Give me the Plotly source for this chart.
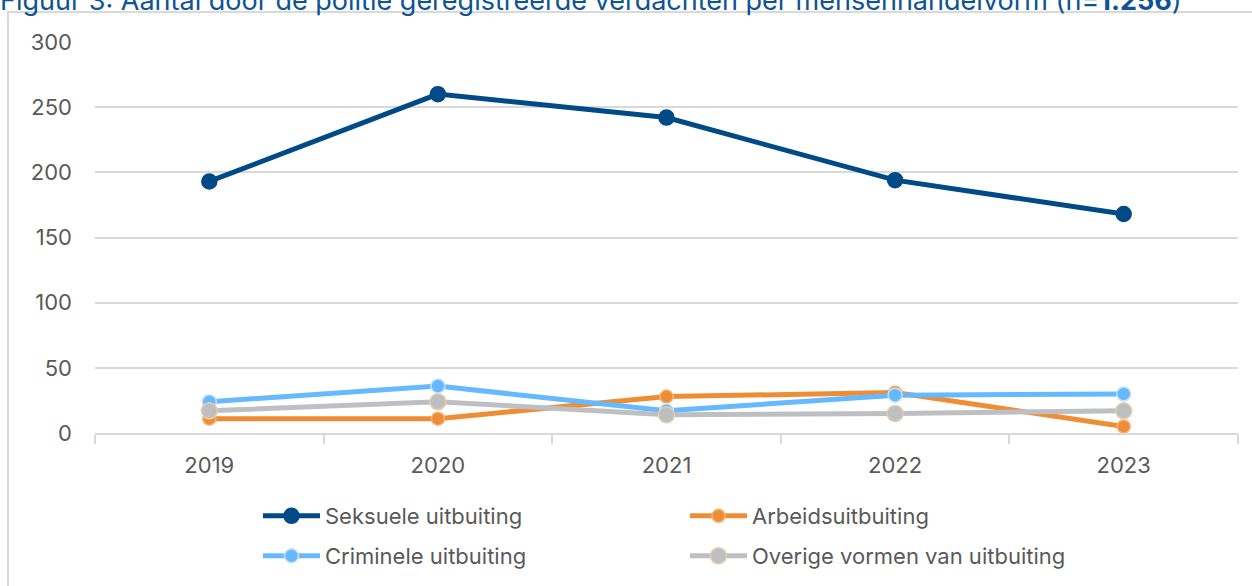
import plotly.graph_objects as go

years = ["2019", "2020", "2021", "2022", "2023"]
seksuele = [193, 260, 242, 194, 168]
arbeid = [11, 11, 28, 31, 5]
criminele = [24, 36, 17, 29, 30]
overige = [17, 24, 14, 15, 17]

series = [
    ("Seksuele uitbuiting", seksuele, "#004A87", "#004A87", 15, "legend"),
    ("Arbeidsuitbuiting", arbeid, "#EE8E34", "#F4B27A", 13, "legend"),
    ("Criminele uitbuiting", criminele, "#66B8FF", "#C9E4FF", 14, "legend2"),
    ("Overige vormen van uitbuiting", overige, "#BEBFC3", "#E3D0A6", 16, "legend2"),
]

fig = go.Figure()
for name, vals, col, edge, ms, lg in series:
    fig.add_trace(go.Scatter(
        x=years, y=vals, name=name, mode="lines+markers",
        line=dict(color=col, width=5),
        marker=dict(color=col, size=ms, line=dict(color=edge, width=1.5)),
        legend=lg,
    ))

# body margin is removed below, so figure pixels == page pixels
W, H = 1252, 586
PL, PR, PT, PB = 95, 1238, 42, 433  # plot area in page pixels
L, T = PL, PT
R, B = W - PR, H - PB
pw, ph = PR - PL, PB - PT

def px(x):
    return (x - PL) / pw

def py(y):
    return (PB - y) / ph

FONT = "Inter, Roboto, sans-serif"
leg_common = dict(
    orientation="h", xanchor="left", yanchor="middle",
    entrywidth=355, entrywidthmode="pixels", itemwidth=57,
    font=dict(size=22, color="#595959", family=FONT),
    bgcolor="rgba(0,0,0,0)",
)

fig.update_layout(
    width=W, height=H,
    margin=dict(l=L, r=R, t=T, b=B, autoexpand=False),
    paper_bgcolor="white", plot_bgcolor="white",
    font=dict(family=FONT, color="#595959", size=22),
    showlegend=True,
    legend=dict(x=px(258), y=py(516), **leg_common),
    legend2=dict(x=px(258), y=py(556), **leg_common),
    xaxis=dict(
        type="category", range=[-0.5, 4.5], showgrid=False,
        showline=True, linecolor="#D9D9D9", linewidth=2,
        ticks="outside", tickson="boundaries", ticklen=9, tickcolor="#D9D9D9", tickwidth=2,
        ticklabelstandoff=12,
        tickfont=dict(size=22, color="#595959"), fixedrange=True,
    ),
    yaxis=dict(
        range=[0, 300], dtick=50, showgrid=True, gridcolor="#D9D9D9", gridwidth=2,
        zeroline=False, showline=False, ticks="", ticklabelstandoff=22,
        tickfont=dict(size=22, color="#595959"),
    ),
    shapes=[dict(
        type="rect", xref="paper", yref="paper",
        x0=px(8), x1=px(1270), y0=py(610), y1=py(12),
        line=dict(color="#D9D9D9", width=2), fillcolor="rgba(0,0,0,0)", layer="below",
    )],
    annotations=[dict(
        text="Figuur 3: Aantal door de politie geregistreerde verdachten per mensenhandelvorm (n=<b>1.256</b>)",
        xref="paper", yref="paper", x=px(-2), y=py(19), xanchor="left", yanchor="bottom",
        showarrow=False, font=dict(size=27, color="#0E5394", family=FONT),
    )],
)

fig.write_html("out.html", config={"displayModeBar": False},
               post_script="document.body.style.margin='0px';")
